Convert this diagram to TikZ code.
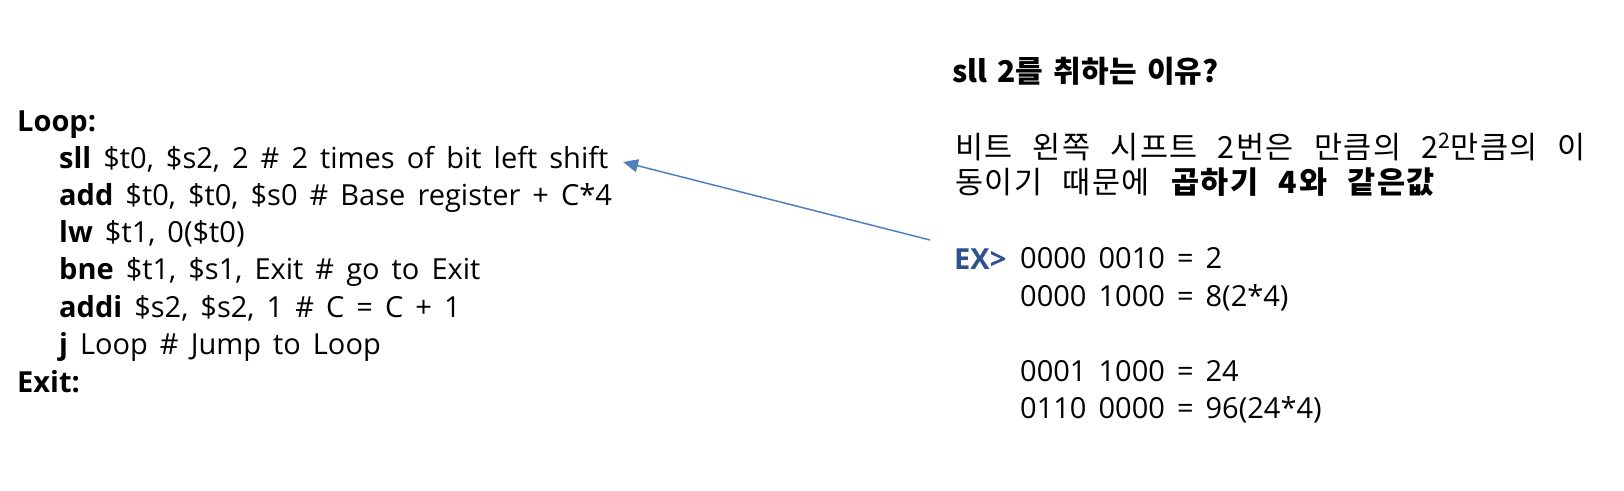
\documentclass[tikz,border=0pt]{standalone}
\usepackage{fontspec}
\setmainfont[WordSpace=1.6]{Open Sans}
\newfontfamily\krfont[WordSpace=2.4,LetterSpace=5]{Noto Sans CJK KR}
\newfontfamily\krtitle[WordSpace=1.5]{Noto Sans CJK KR}
\usetikzlibrary{arrows.meta,positioning}
\definecolor{arrowblue}{RGB}{79,129,189}
\definecolor{exblue}{RGB}{47,82,143}

\begin{document}
\begin{tikzpicture}[x=1pt,y=-1pt,every node/.append style={anchor=base west,inner sep=0pt,font=\fontsize{29}{37}\selectfont}]
    \tikzstyle{label}=[font=\fontsize{29}{37}\selectfont\bfseries]
    \tikzstyle{kr}=[font=\fontsize{30.5}{37}\selectfont\krfont]
    \tikzstyle{pointer}=[draw=arrowblue, line width=1.5pt, -{Triangle[length=15pt,width=13pt]}, fill=arrowblue]
    \useasboundingbox (0,0) rectangle (1624,490);
    % code listing
    \node[label] (loop) at (17,131) {Loop:};
    \foreach \i/\op/\rest in {1/sll/{\$t0, \$s2, 2 \# 2 times of bit left shift},
                              2/add/{\$t0, \$t0, \$s0 \# Base register + C*4},
                              3/lw/{\$t1, 0(\$t0)},
                              4/bne/{\$t1, \$s1, Exit \# go to Exit},
                              5/addi/{\$s2, \$s2, 1 \# C = C + 1},
                              6/j/{Loop \# Jump to Loop}} {
        \node (c\i) at (59,131+37.2*\i) {\textbf{\op} \rest};
    }
    \node[label] (exit) at (17,392) {Exit:};
    % explanation
    \node[font=\fontsize{30}{37}\selectfont\krtitle\bfseries] (why) at (952,82) {sll 2를 취하는 이유?};
    \node[kr] (expl1) at (955,158) {비트 왼쪽 시프트 2번은 만큼의 2\textsuperscript{2}만큼의 이};
    \node[kr] (expl2) at (955,193) {동이기 때문에 \textbf{곱하기 4와 같은값}};
    \node[label, text=exblue] (ex) at (954,269) {EX>};
    \foreach \i/\bits/\val in {1/{0000 0010}/{2}, 2/{0000 1000}/{8(2*4)}, 4/{0001 1000}/{24}, 5/{0110 0000}/{96(24*4)}} {
        \node (b\i) at (1020,231+37.5*\i) {\bits{} = \val};
    }
    % arrow back to the sll line
    \coordinate (tail) at (930,240);
    \coordinate (tip) at (623,162);
    \draw[pointer] (tail) -- (tip);
\end{tikzpicture}
\end{document}
